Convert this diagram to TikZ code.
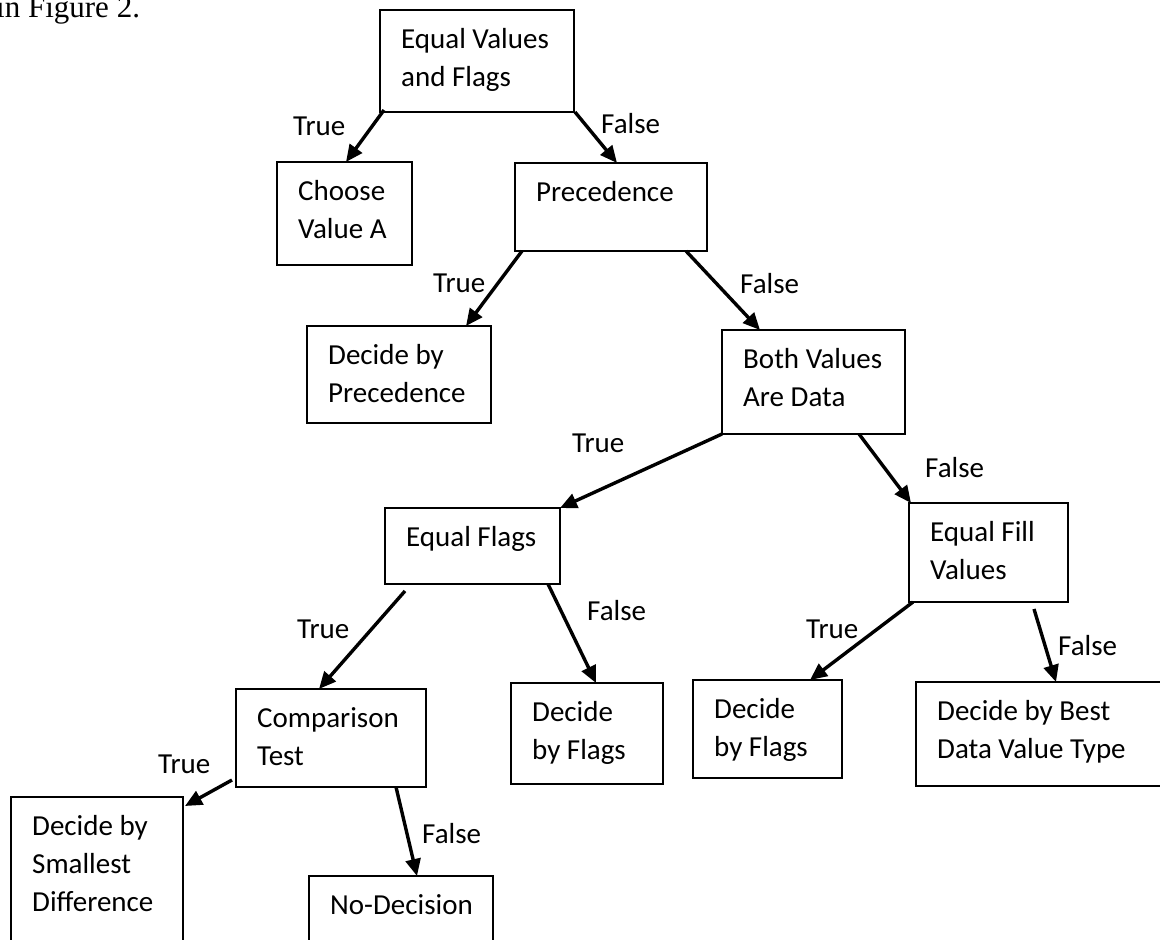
\documentclass[tikz,border=0pt]{standalone}
\usepackage{fontspec}
\setmainfont{Carlito}
\newfontfamily\timesfont{Liberation Serif}
\usetikzlibrary{arrows.meta}
\tikzset{
  box/.style={draw=black, line width=1.2pt, inner sep=0pt, outer sep=0pt, anchor=north west},
  boxtext/.style={inner sep=0pt, anchor=north west, align=left, font=\fontsize{29}{38}\selectfont},
  lbl/.style={inner sep=0pt, anchor=base west, font=\fontsize{29}{34}\selectfont},
  arr/.style={line width=3.4pt, -{Triangle[length=17pt,width=15pt]}}
}
\newcommand{\mybox}[6]{%
  \node[box, minimum width=#4pt-#2pt, minimum height=#5pt-#3pt] (#1) at (#2,#3) {};
  \node[boxtext] (#1t) at ([xshift=21pt,yshift=-11.4pt]#1.north west) {\strut #6};
}
\begin{document}
\begin{tikzpicture}[x=1pt,y=-1pt]
\useasboundingbox (0,0) rectangle (1160,940);
\clip (0,0) rectangle (1160,940);
\node[inner sep=0pt, anchor=base west, font=\timesfont\fontsize{31}{36}\selectfont] (fig) at (-4,17) {in Figure 2.};

\mybox{evf}{380}{10}{574}{112}{Equal Values\\and Flags}
\mybox{choose}{277}{162}{412}{265}{Choose\\Value A}
\mybox{prec}{515}{163}{707}{251}{Precedence}
\mybox{dbp}{307}{326}{491}{423}{Decide by\\Precedence}
\mybox{both}{722}{330}{905}{434}{Both Values\\Are Data}
\mybox{eqf}{385}{508}{560}{584}{Equal Flags}
\mybox{efv}{909}{503}{1068}{602}{Equal Fill\\Values}
\mybox{dbfm}{511}{683}{663}{784}{Decide\\by Flags}
\mybox{dbfr}{693}{680}{842}{778}{Decide\\by Flags}
\mybox{best}{916}{682}{1170}{786}{Decide by Best\\Data Value Type}
\mybox{comp}{236}{689}{426}{787}{Comparison\\Test}
\mybox{small}{11}{797}{183}{960}{Decide by\\Smallest\\Difference}
\mybox{nod}{309}{876}{493}{960}{No-Decision}

\draw[arr] ([xshift=4pt,yshift=2pt]evf.south west) -- ([xshift=69pt]choose.north west);
\draw[arr] ([xshift=1pt]evf.south east) -- ([xshift=102pt]prec.north west);
\draw[arr] ([xshift=7pt]prec.south west) -- ([xshift=159pt]dbp.north west);
\draw[arr] ([xshift=-21pt]prec.south east) -- ([xshift=38pt]both.north west);
\draw[arr] (both.south west) -- (eqf.north east);
\draw[arr] ([xshift=137pt]both.south west) -- ([xshift=2pt]efv.north west);
\draw[arr] ([xshift=20pt,yshift=-7pt]eqf.south west) -- ([xshift=83pt]comp.north west);
\draw[arr] ([xshift=-12pt]eqf.south east) -- ([xshift=85pt]dbfm.north west);
\draw[arr] ([xshift=4pt]efv.south west) -- ([xshift=117pt]dbfr.north west);
\draw[arr] ([xshift=-34pt,yshift=-7pt]efv.south east) -- ([xshift=140pt]best.north west);
\draw[arr] ([xshift=-4pt,yshift=7pt]comp.south west) -- ([xshift=2pt,yshift=-9pt]small.north east);
\draw[arr] ([xshift=-30pt]comp.south east) -- ([xshift=108pt]nod.north west);

\node[lbl] (t1) at (293,135) {True};
\node[lbl] (f1) at (601,133) {False};
\node[lbl] (t2) at (433,292) {True};
\node[lbl] (f2) at (740,293) {False};
\node[lbl] (t3) at (572,452) {True};
\node[lbl] (f3) at (925,477) {False};
\node[lbl] (t4) at (297,638) {True};
\node[lbl] (f4) at (587,620) {False};
\node[lbl] (t5) at (806,638) {True};
\node[lbl] (f5) at (1058,655) {False};
\node[lbl] (t6) at (158,773) {True};
\node[lbl] (f6) at (422,843) {False};
\end{tikzpicture}
\end{document}
